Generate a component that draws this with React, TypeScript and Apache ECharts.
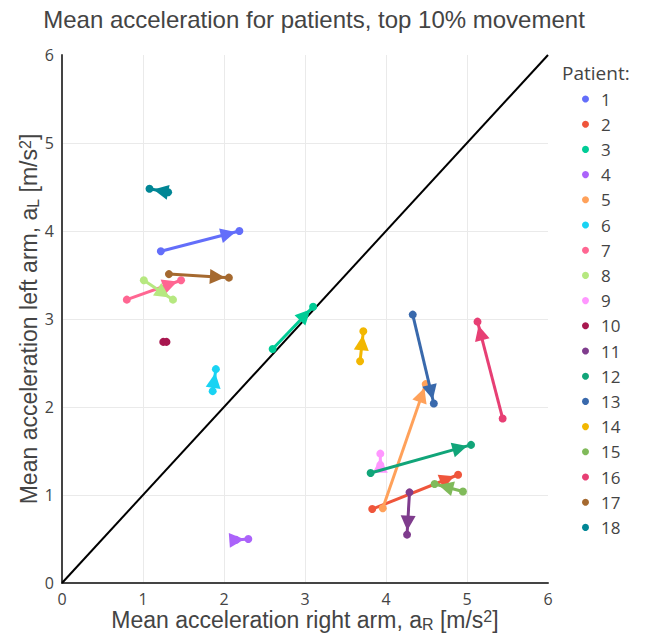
import React, { useEffect, useRef } from "react";
import * as echarts from "echarts";

const patients = ["1","2","3","4","5","6","7","8","9","10","11","12","13","14","15","16","17","18"];
const colors = ["#636EFA","#EF553B","#00CC96","#AB63FA","#FFA15A","#19D3F3","#FF6692","#B6E880","#FF97FF","#A8174F","#7F3C8D","#11A579","#3969AC","#F2B701","#80BA5A","#E73F74","#A5692F","#008695"];
const startX = [1.22, 3.83, 2.60, 2.15, 3.96, 1.86, 0.80, 1.01, 3.93, 1.25, 4.29, 3.81, 4.33, 3.68, 4.95, 5.44, 1.32, 1.31];
const startY = [3.77, 0.84, 2.66, 0.49, 0.85, 2.18, 3.22, 3.44, 1.34, 2.74, 1.03, 1.25, 3.05, 2.52, 1.04, 1.87, 3.51, 4.44];
const endX = [2.19, 4.89, 3.10, 2.30, 4.49, 1.90, 1.47, 1.37, 3.93, 1.29, 4.26, 5.05, 4.59, 3.72, 4.60, 5.13, 2.06, 1.08];
const endY = [4.00, 1.23, 3.14, 0.50, 2.26, 2.43, 3.44, 3.22, 1.47, 2.74, 0.55, 1.57, 2.04, 2.86, 1.125, 2.97, 3.47, 4.48];
const axisTicks = [0, 1, 2, 3, 4, 5, 6];
const diagonal = [[0, 0], [6, 6]];

const FONT = "'Open Sans', 'DejaVu Sans', sans-serif";
const TFONT = "'Liberation Sans', Arial, sans-serif";

export default function App() {
  const ref = useRef<HTMLDivElement>(null);
  useEffect(() => {
    document.body.style.margin = "0";
    const chart = echarts.init(ref.current!, undefined, { renderer: "svg" });
    const makeRender = (color: string) => (params: any, api: any) => {
      const p0 = api.coord([api.value(0), api.value(1)]);
      const p1 = api.coord([api.value(2), api.value(3)]);
      const dx = p1[0] - p0[0];
      const dy = p1[1] - p0[1];
      const len = Math.sqrt(dx * dx + dy * dy);
      const children: any[] = [
        { type: "line", shape: { x1: p0[0], y1: p0[1], x2: p1[0], y2: p1[1] }, style: { stroke: color, lineWidth: 3 } },
        { type: "circle", shape: { cx: p0[0], cy: p0[1], r: 4 }, style: { fill: color } },
        { type: "circle", shape: { cx: p1[0], cy: p1[1], r: 4 }, style: { fill: color } },
      ];
      if (len > 8) {
        const ux = dx / len, uy = dy / len;
        const standoff = 4, L = 15, W = 7.5;
        const tx = p1[0] - ux * standoff, ty = p1[1] - uy * standoff;
        const bx = tx - ux * L, by = ty - uy * L;
        children.push({
          type: "polygon",
          shape: { points: [[tx, ty], [bx - uy * W, by + ux * W], [bx + uy * W, by - ux * W]] },
          style: { fill: color },
        });
      }
      return { type: "group", children };
    };
    const series: any[] = [
      {
        type: "line",
        name: "diag",
        data: diagonal,
        symbol: "none",
        silent: true,
        lineStyle: { color: "#000", width: 2 },
        z: 1,
      },
    ];
    patients.forEach((p, i) => {
      series.push({
        type: "custom",
        name: p,
        data: [[startX[i], startY[i], endX[i], endY[i]]],
        encode: { x: [0, 2], y: [1, 3] },
        itemStyle: { color: colors[i] },
        renderItem: makeRender(colors[i]),
        z: 2,
      });
    });
    const rich = {
      sub: { fontSize: 16, lineHeight: 14, verticalAlign: "bottom", color: "#444", fontFamily: TFONT },
      sup: { fontSize: 16, lineHeight: 14, verticalAlign: "top", color: "#444", fontFamily: TFONT },
    };
    chart.setOption({
      animation: false,
      textStyle: { fontFamily: FONT },
      grid: { left: 62, right: 100, top: 55, bottom: 51, containLabel: false, outerBoundsMode: "none" },
      graphic: [
        {
          type: "text",
          x: 314,
          y: 19,
          style: {
            text: "Mean acceleration for patients, top 10% movement",
            fontSize: 24,
            fill: "#444",
            fontFamily: TFONT,
            textAlign: "center",
            textVerticalAlign: "middle",
          },
        },
        {
          type: "text",
          x: 562,
          y: 73,
          style: {
            text: "Patient:",
            fontSize: 19,
            fill: "#444",
            fontFamily: FONT,
            textAlign: "left",
            textVerticalAlign: "middle",
          },
        },
      ],
      legend: {
        data: patients,
        orient: "vertical",
        left: 577,
        top: 85,
        icon: "circle",
        itemWidth: 7,
        itemHeight: 7,
        itemGap: 7.2,
        textStyle: { fontSize: 17, lineHeight: 18, color: "#444", fontFamily: FONT, padding: [0, 0, 0, 7] },
      },
      xAxis: {
        type: "value",
        min: axisTicks[0],
        max: axisTicks[axisTicks.length - 1],
        interval: 1,
        name: "Mean acceleration right arm, a{sub|R} [m/s{sup|2}]",
        nameLocation: "middle",
        nameGap: 25,
        nameMoveOverlap: false,
        nameTextStyle: { fontSize: 23, lineHeight: 24, color: "#444", fontFamily: TFONT, rich },
        axisLine: { show: true, lineStyle: { color: "#444", width: 2 } },
        axisTick: { show: false },
        axisLabel: { fontSize: 16, lineHeight: 16, color: "#444", margin: 8, fontFamily: FONT },
        splitLine: { show: true, showMaxLine: false, lineStyle: { color: "#eaeaea", width: 1 } },
      },
      yAxis: {
        type: "value",
        min: axisTicks[0],
        max: axisTicks[axisTicks.length - 1],
        interval: 1,
        name: "Mean acceleration left arm, a{sub|L} [m/s{sup|2}]",
        nameLocation: "middle",
        nameGap: 21,
        nameMoveOverlap: false,
        nameTextStyle: { fontSize: 23, lineHeight: 24, color: "#444", fontFamily: TFONT, rich },
        axisLine: { show: true, lineStyle: { color: "#444", width: 2 } },
        axisTick: { show: false },
        axisLabel: { fontSize: 16, color: "#444", margin: 8, fontFamily: FONT },
        splitLine: { show: true, showMaxLine: false, lineStyle: { color: "#eaeaea", width: 1 } },
      },
      series,
    });
    return () => chart.dispose();
  }, []);
  return <div ref={ref} style={{ width: 648, height: 634 }} />;
}
